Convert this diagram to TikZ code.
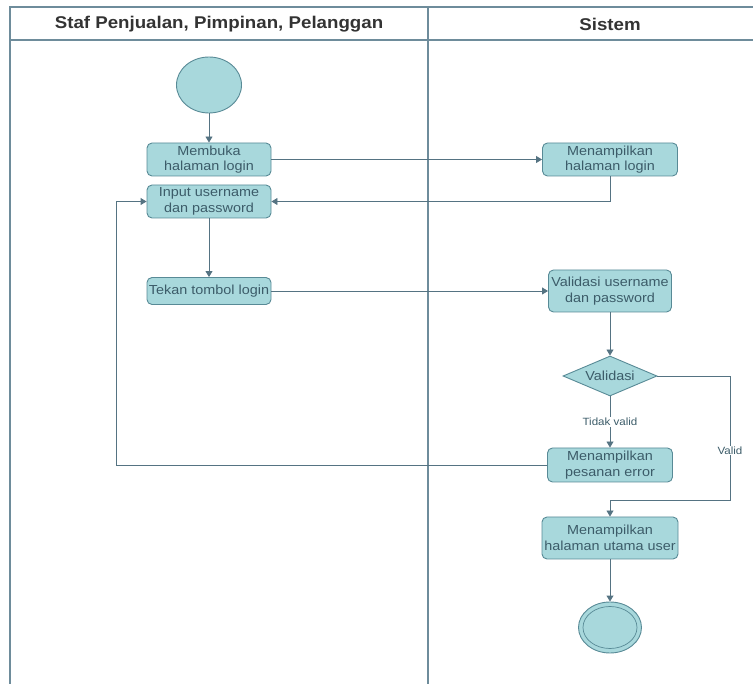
\documentclass[tikz,border=0pt]{standalone}
\usepackage{fontspec}
\setmainfont{Liberation Sans}[FakeStretch=1.1]
\usetikzlibrary{positioning,shapes.geometric,arrows.meta}
\definecolor{actfill}{RGB}{168,216,220}
\definecolor{actdraw}{RGB}{88,138,150}
\definecolor{lanecol}{RGB}{110,140,155}
\definecolor{txtcol}{RGB}{60,92,105}
\definecolor{arrcol}{RGB}{85,115,130}
\begin{document}
\begin{tikzpicture}
  [x=1pt,y=-1pt,
   font=\fontsize{13.1}{15.5}\selectfont,
   act/.style={rectangle,rounded corners=5pt,draw=actdraw,fill=actfill,
     text=txtcol,align=center,inner sep=0pt,line width=0.9pt},
   dec/.style={diamond,draw=actdraw,fill=actfill,text=txtcol,inner sep=0pt,
     minimum width=94pt,minimum height=40pt,aspect=2.35,line width=0.9pt},
   startnode/.style={ellipse,draw=actdraw,fill=actfill,inner sep=0pt,
     minimum width=65pt,minimum height=56pt,line width=0.9pt},
   head/.style={font=\fontsize{17}{19}\selectfont\bfseries,text=black!80},
   lane/.style={draw=lanecol,line width=1.8pt},
   flow/.style={draw=arrcol,line width=0.9pt,-{Triangle[width=7pt,length=6pt]}},
   lbl/.style={fill=white,inner sep=1pt,text=txtcol,font=\fontsize{10.5}{12}\selectfont}]

  \useasboundingbox (0,0) rectangle (753,684);

  % swimlanes
  \draw[lane] (10,684) -- (10,7) -- (753,7);
  \draw[lane] (10,40) -- (753,40);
  \draw[lane] (428,7) -- (428,684);
  \node[head] (lane1) at (219,24) {Staf Penjualan, Pimpinan, Pelanggan};
  \node[head] (lane2) at (610,24) {Sistem};

  % actions
  \node[startnode] (start) at (209,85) {};
  \node[act,minimum width=124pt,minimum height=33pt] (buka) at (209,159.5) {Membuka\\halaman login};
  \node[act,minimum width=124pt,minimum height=33pt] (inp) at (209,201.5) {Input username\\dan password};
  \node[act,minimum width=124pt,minimum height=27pt] (tekan) at (209,291) {Tekan tombol login};
  \node[act,minimum width=135pt,minimum height=33pt] (tampil) at (610,159.5) {Menampilkan\\halaman login};
  \node[act,minimum width=123pt,minimum height=42pt] (valid) at (610,291) {Validasi username\\dan password};
  \node[dec] (cek) at (610,376) {Validasi};
  \node[act,minimum width=125pt,minimum height=34pt] (err) at (610,465) {Menampilkan\\pesanan error};
  \node[act,minimum width=136pt,minimum height=42pt] (utama) at (610,538) {Menampilkan\\halaman utama user};
  \node[startnode,minimum width=63pt,minimum height=51pt] (end) at (610,627.5) {};
  \node[startnode,minimum width=54pt,minimum height=42pt,line width=0.7pt] (endin) at (end.center) {};

  \coordinate (belok) at (730,500);

  \foreach \from/\to in {start/buka,buka/tampil,inp/tekan,tekan/valid,valid/cek,utama/end}
    \draw[flow] (\from) -- (\to);
  \draw[flow] (tampil.south) |- (inp.east);
  \draw[flow] (cek) -- node[lbl] {Tidak valid} (err);
  \draw[flow] (err.west) -| ([xshift=-30pt]inp.west) -- (inp.west);
  \draw[flow] (cek.east) -| node[lbl,pos=0.8] {Valid} (belok) -| (utama.north);
\end{tikzpicture}
\end{document}
